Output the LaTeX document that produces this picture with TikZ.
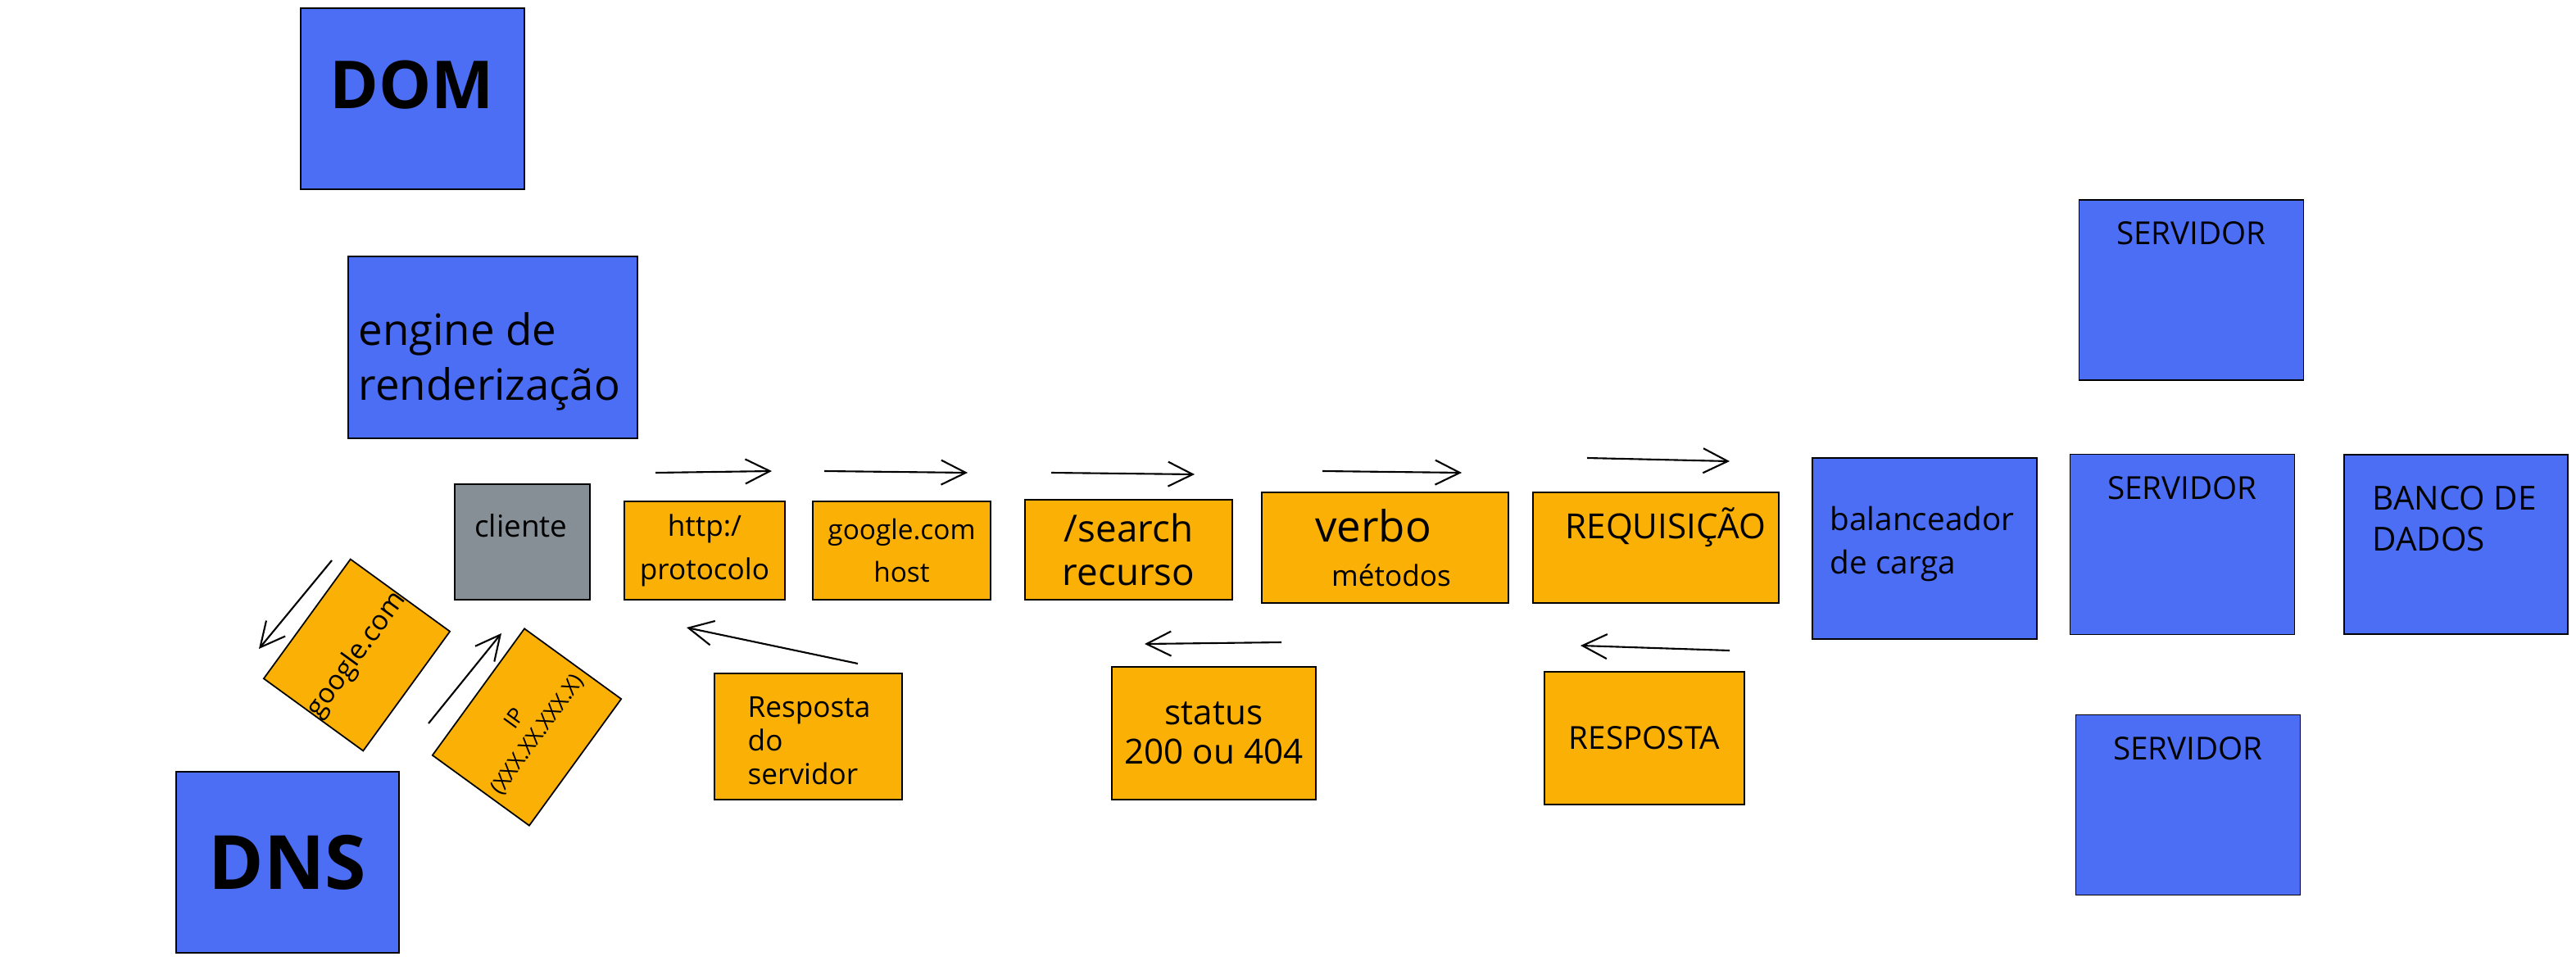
\documentclass[tikz,border=0pt]{standalone}
\usepackage{fontspec}
\setmainfont{Open Sans}
\usetikzlibrary{arrows.meta}

\definecolor{boxblue}{RGB}{76,110,245}
\definecolor{boxorange}{RGB}{250,176,5}
\definecolor{boxgray}{RGB}{134,142,150}

\begin{document}
\begin{tikzpicture}[
    box/.style = {draw = black, line width = .5pt, inner sep = 0pt, align = center},
    bluebox/.style = {box, fill = boxblue},
    orangebox/.style = {box, fill = boxorange},
    graybox/.style = {box, fill = boxgray},
    txt/.style = {inner sep = 0pt, align = #1},
    txt/.default = center,
    fs/.style 2 args = {font = \fontsize{#1}{#2}\selectfont},
    flow/.style = {line width = .6pt, -{Straight Barb[length = 3mm, width = 3mm]}}
  ]

            \useasboundingbox (0,0) rectangle (31.44,-11.72);

            % navegador
            \node [bluebox, minimum width = 2.73cm, minimum height = 2.21cm] (dom) at (5.035,-1.205) {};
            \node [txt, fs = {23}{27}] (domtxt) at (5.03,-1.04) {\bfseries DOM};
            \node [bluebox, minimum width = 3.53cm, minimum height = 2.22cm] (engine) at (6.015,-4.24) {};
            \node [txt = left, anchor = west, fs = {15}{19}] (enginetxt) at (4.37,-4.41) {engine de\\renderização};
            \node [graybox, minimum width = 1.65cm, minimum height = 1.41cm] (cliente) at (6.375,-6.615) {};
            \node [txt, fs = {10.5}{13}] (clientetxt) at (6.36,-6.42) {cliente};

            % DNS
            \node [orangebox, rotate = 54, minimum width = 1.79cm, minimum height = 1.50cm, fs = {9.5}{12}] (consulta) at (4.355,-7.995) {google.com};
            \node [orangebox, rotate = 54, minimum width = 1.91cm, minimum height = 1.46cm, fs = {7.5}{9.5}] (ip) at (6.43,-8.875) {IP\\(XXX.XX.XXX.X)};
            \node [bluebox, minimum width = 2.72cm, minimum height = 2.21cm, fs = {26}{30}] (dns) at (3.51,-10.525) {\bfseries DNS};
            \coordinate (consultaa) at (4.05,-6.84);
            \coordinate (consultab) at (3.16,-7.92);
            \coordinate (retornoa) at (5.23,-8.83);
            \coordinate (retornob) at (6.12,-7.73);
            \draw [flow] (consultaa) -- (consultab);
            \draw [flow] (retornoa) -- (retornob);

            % partes da URL
            \node [orangebox, minimum width = 1.96cm, minimum height = 1.20cm, fs = {10}{15}] (protocolo) at (8.60,-6.72) {http:/\\protocolo};
            \node [orangebox, minimum width = 2.17cm, minimum height = 1.20cm, fs = {9.5}{15}] (host) at (11.005,-6.72) {google.com\\host};
            \node [orangebox, minimum width = 2.53cm, minimum height = 1.22cm, fs = {13}{15}] (recurso) at (13.775,-6.71) {/search\\recurso};
            \node [orangebox, minimum width = 3.01cm, minimum height = 1.35cm] (verbo) at (16.905,-6.685) {};
            \node [txt, fs = {15}{17}] (verbotxt) at (16.76,-6.42) {verbo};
            \node [txt, fs = {10}{12}] (metodostxt) at (16.98,-7.02) {métodos};
            \node [orangebox, minimum width = 3.00cm, minimum height = 1.35cm] (requisicao) at (20.21,-6.685) {};
            \node [txt, fs = {12}{14}] (requisicaotxt) at (20.33,-6.44) {REQUISIÇÃO};

            % resposta
            \node [orangebox, minimum width = 2.29cm, minimum height = 1.54cm] (respservidor) at (9.865,-8.99) {};
            \node [txt = left, anchor = west, fs = {10}{11.7}] (respservidortxt) at (9.12,-9.04) {Resposta\\do\\servidor};
            \node [orangebox, minimum width = 2.49cm, minimum height = 1.62cm, fs = {12}{13.7}] (status) at (14.815,-8.95) {status\\200 ou 404};
            \node [orangebox, minimum width = 2.44cm, minimum height = 1.62cm, fs = {11}{13}] (resposta) at (20.07,-9.01) {RESPOSTA};

            \foreach \k/\xa/\ya/\xb/\yb in {1/8.00/-5.77/9.42/-5.75, 2/10.06/-5.75/11.81/-5.77, 3/12.83/-5.77/14.58/-5.79, 4/16.14/-5.75/17.84/-5.77, 5/19.37/-5.59/21.11/-5.63} {
              \coordinate (ida\k a) at (\xa,\ya);
              \coordinate (ida\k b) at (\xb,\yb);
              \draw [flow] (ida\k a) -- (ida\k b);
            }
            \foreach \k/\xa/\ya/\xb/\yb in {1/21.11/-7.94/19.29/-7.88, 2/15.64/-7.84/13.97/-7.86, 3/10.47/-8.10/8.38/-7.66} {
              \coordinate (volta\k a) at (\xa,\ya);
              \coordinate (volta\k b) at (\xb,\yb);
              \draw [flow] (volta\k a) -- (volta\k b);
            }

            % servidores
            \node [bluebox, minimum width = 2.74cm, minimum height = 2.21cm] (balanceador) at (23.49,-6.695) {};
            \node [txt = left, anchor = west, fs = {11}{15}] (balanceadortxt) at (22.33,-6.64) {balanceador\\de carga};
            \foreach \srv/\x/\y in {1/26.745/-3.54, 2/26.635/-6.645, 3/26.705/-9.825} {
              \node [bluebox, minimum width = 2.74cm, minimum height = 2.20cm] (servidor\srv) at (\x,\y) {};
              \node [txt, fs = {11}{13}] (servidortxt\srv) at ([yshift = -.42cm]servidor\srv.north) {SERVIDOR};
            }
            \node [bluebox, minimum width = 2.73cm, minimum height = 2.19cm] (banco) at (29.975,-6.645) {};
            \node [txt = left, anchor = west, fs = {11.5}{14}] (bancotxt) at (28.95,-6.33) {BANCO DE\\DADOS};
            \end{tikzpicture}
\end{document}
